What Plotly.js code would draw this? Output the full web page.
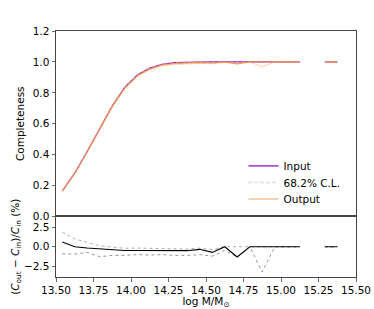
<!DOCTYPE html>
<html><head><meta charset="utf-8">
<script src="https://cdn.plot.ly/plotly-3.0.1.min.js"></script>
<style>body{margin:0;padding:0;background:#fff}#c{width:374px;height:309px}</style>
</head><body><div id="c"></div>
<script>
const logM = [13.542,13.625,13.708,13.792,13.875,13.958,14.042,14.125,14.208,14.292,14.375,14.458,14.542,14.625,14.708,14.792,14.875,14.958,15.042,15.125,15.208,15.292,15.375];
const compIn  = [0.165,0.28,0.42,0.565,0.715,0.835,0.915,0.96,0.985,0.995,0.998,1.0,1.0,1.0,1.0,1.0,1.0,1.0,1.0,1.0,null,1.0,1.0];
const compOut = [0.166,0.28,0.419,0.563,0.712,0.831,0.911,0.955,0.98,0.99,0.993,0.997,0.993,1.0,0.987,1.0,1.0,1.0,1.0,1.0,null,1.0,1.0];
const compOutLo = [0.163,0.277,0.417,0.558,0.707,0.826,0.906,0.95,0.975,0.984,0.987,0.99,0.988,0.996,0.987,1.0,0.968,1.0,1.0,1.0,null,1.0,1.0];
const compInCL = [0.165,0.28,0.42,0.565,0.715,0.835,0.915,0.96,0.985,0.995,0.998,1.0,1.0,1.0,1.0,1.0,1.0,1.0,1.0,1.0,null,1.0,1.0];
const diffPct = [0.6,0.0,-0.17,-0.3,-0.38,-0.47,-0.47,-0.5,-0.5,-0.5,-0.5,-0.33,-0.72,0.0,-1.3,0.0,0.0,0.0,0.0,0.0,null,0.0,0.0];
const diffHi  = [1.86,1.0,0.55,0.13,-0.04,-0.2,-0.17,-0.2,-0.25,-0.3,-0.3,-0.17,-0.38,0.0,0.0,0.0,0.0,0.0,0.0,0.0,null,0.0,0.0];
const diffLo  = [-0.9,-0.93,-0.72,-1.27,-1.1,-1.1,-1.0,-1.05,-1.0,-1.1,-1.1,-1.0,-1.2,-0.45,-1.3,0.0,-3.2,0.0,0.0,0.0,null,0.0,0.0];
const xTicks = [13.5,13.75,14.0,14.25,14.5,14.75,15.0,15.25,15.5];
const yTopTicks = [0.0,0.2,0.4,0.6,0.8,1.0,1.2];
const yBotTicks = [-2.5,0.0,2.5];

const purple = '#8a0ac2';
const traces = [
  {x:logM, y:compIn, xaxis:'x2', yaxis:'y', mode:'lines', name:'Input', legend:'legend', line:{color:purple, width:1.2}},
  {x:logM, y:compInCL, xaxis:'x2', yaxis:'y', mode:'lines', name:'68.2% C.L.', legend:'legend2', line:{color:'rgba(205,170,235,0.6)', width:1.5, dash:'dot'}},
  {x:logM, y:compOut, xaxis:'x2', yaxis:'y', mode:'lines', name:'Output', legend:'legend3', line:{color:'rgba(248,149,64,0.85)', width:1.2}},
  {x:logM, y:compOutLo, xaxis:'x2', yaxis:'y', mode:'lines', name:'Output C.L.', line:{color:'rgba(248,149,64,0.45)', width:1}, showlegend:false},
  {x:logM, y:diffHi, xaxis:'x', yaxis:'y2', mode:'lines', line:{color:'#999', width:0.8, dash:'dot'}, showlegend:false},
  {x:logM, y:diffLo, xaxis:'x', yaxis:'y2', mode:'lines', line:{color:'#777', width:0.8, dash:'dot'}, showlegend:false},
  {x:logM, y:diffPct, xaxis:'x', yaxis:'y2', mode:'lines', line:{color:'#000', width:1.1}, showlegend:false}
];
const ax = {showline:true, linecolor:'#444', linewidth:1, mirror:true, ticks:'outside', ticklen:3.5, tickwidth:0.8, tickcolor:'#444', showgrid:false, zeroline:false};
const leg = (y) => ({x:0.625, y:y, xanchor:'left', yanchor:'middle', bgcolor:'rgba(0,0,0,0)', font:{size:10.5}, itemwidth:30});
const layout = {
  width:374, height:309,
  margin:{l:56, r:18.3, t:31, b:31.7},
  paper_bgcolor:'#fff', plot_bgcolor:'#fff',
  font:{family:'DejaVu Sans', size:10.5, color:'#000'},
  showlegend:true,
  legend:leg(0.452), legend2:leg(0.384), legend3:leg(0.317),
  xaxis:Object.assign({}, ax, {anchor:'y2', range:[13.5,15.5], tickvals:xTicks, ticktext:xTicks.map(v=>v.toFixed(2)),
    title:{text:'log M/M<sub>⊙</sub>', standoff:2, font:{size:10.5}}}),
  xaxis2:Object.assign({}, ax, {anchor:'y', matches:'x', range:[13.5,15.5], showticklabels:false, ticks:''}),
  yaxis:Object.assign({}, ax, {domain:[0.246,1], range:[0,1.2], tickvals:yTopTicks, ticktext:yTopTicks.map(v=>v.toFixed(1)),
    title:{text:'Completeness', standoff:6, font:{size:10.5}}}),
  yaxis2:Object.assign({}, ax, {domain:[0,0.246], range:[-3.85,3.85], tickvals:yBotTicks, ticktext:yBotTicks.map(v=>v.toFixed(1).replace('-','\u2212')),
    title:{text:'(<i>C</i><sub>out</sub> \u2212 <i>C</i><sub>in</sub>)/<i>C</i><sub>in</sub> (%)', standoff:2, font:{size:10.5}}})
};
Plotly.newPlot('c', traces, layout, {staticPlot:true, displayModeBar:false});
</script></body></html>
